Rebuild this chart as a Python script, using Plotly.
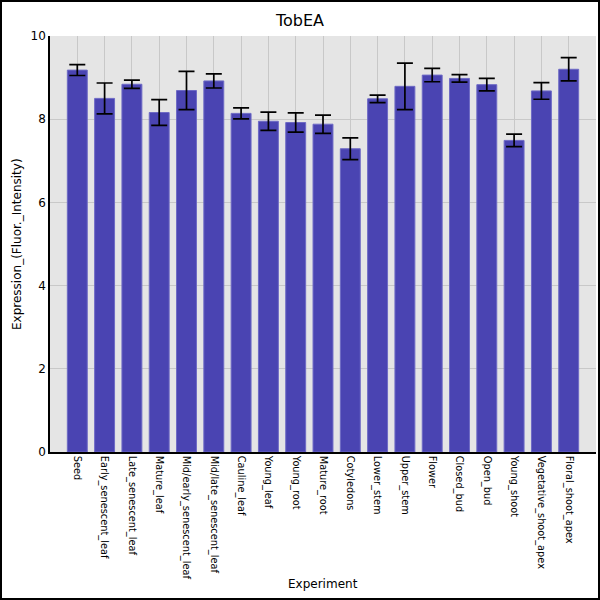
import plotly.graph_objects as go

# Tissue samples and expression levels
experiments = [
    "Seed", "Early_senescent_leaf", "Late_senescent_leaf", "Mature_leaf",
    "Mid/early_senescent_leaf", "Mid/late_senescent_leaf", "Cauline_leaf",
    "Young_leaf", "Young_root", "Mature_root", "Cotyledons", "Lower_stem",
    "Upper_stem", "Flower", "Closed_bud", "Open_bud", "Young_shoot",
    "Vegetative_shoot_apex", "Floral_shoot_apex",
]
expression = [9.18, 8.50, 8.84, 8.16, 8.69, 8.92, 8.14, 7.95, 7.92, 7.88,
              7.29, 8.49, 8.79, 9.06, 8.98, 8.83, 7.49, 8.68, 9.20]
error = [0.13, 0.37, 0.10, 0.31, 0.46, 0.17, 0.13, 0.22, 0.23, 0.22,
         0.26, 0.09, 0.56, 0.16, 0.09, 0.15, 0.15, 0.20, 0.28]
y_ticks = [0, 2, 4, 6, 8, 10]

fig = go.Figure()
fig.add_trace(go.Bar(
    x=experiments,
    y=expression,
    marker=dict(color="#4a44b2", line=dict(color="#6e6ac5", width=1)),
    width=0.73,
    error_y=dict(type="data", array=error, color="black", thickness=1.7, width=8),
))

axis_titles = [
    dict(text="Experiment", xref="paper", yref="paper", x=0.5, y=(452 - 584) / 416,
         xanchor="center", yanchor="middle", showarrow=False, font=dict(size=12)),
    dict(text="Expression_(Fluor._Intensity)", textangle=-90,
         xref="paper", yref="paper", x=(17 - 50) / 546, y=0.5,
         xanchor="center", yanchor="middle", showarrow=False, font=dict(size=12)),
]

fig.update_layout(
    width=600,
    height=600,
    title=dict(text="TobEA", x=0.5, xanchor="center", y=0.966, yanchor="middle",
               font=dict(family="DejaVu Sans", size=16, color="black")),
    font=dict(family="DejaVu Sans", color="black"),
    paper_bgcolor="white",
    plot_bgcolor="#e5e5e5",
    margin=dict(l=50, r=4, t=36, b=148, autoexpand=False),
    showlegend=False,
    xaxis=dict(
        automargin=False,
        tickangle=90,
        tickfont=dict(size=9.8),
        range=[-1, len(experiments)],
        showgrid=True,
        gridcolor="#c8c8c8",
        showline=True,
        linecolor="black",
        linewidth=1.5,
        ticks="",
    ),
    yaxis=dict(
        automargin=False,
        range=[0, 10],
        tickvals=y_ticks,
        tickfont=dict(size=12),
        showgrid=True,
        gridcolor="#c8c8c8",
        showline=True,
        linecolor="black",
        linewidth=1.5,
        zeroline=False,
        ticks="",
    ),
    annotations=axis_titles,
    shapes=[dict(type="rect", xref="paper", yref="paper",
                 x0=-49 / 546, x1=1 + 3 / 546, y0=-147 / 416, y1=1 + 35 / 416,
                 line=dict(color="black", width=2))],
)

# drop the default page margin so the figure sits at the window corner
fig.write_html("out.html", config={"displayModeBar": False},
               post_script="document.body.style.margin = '0';")
